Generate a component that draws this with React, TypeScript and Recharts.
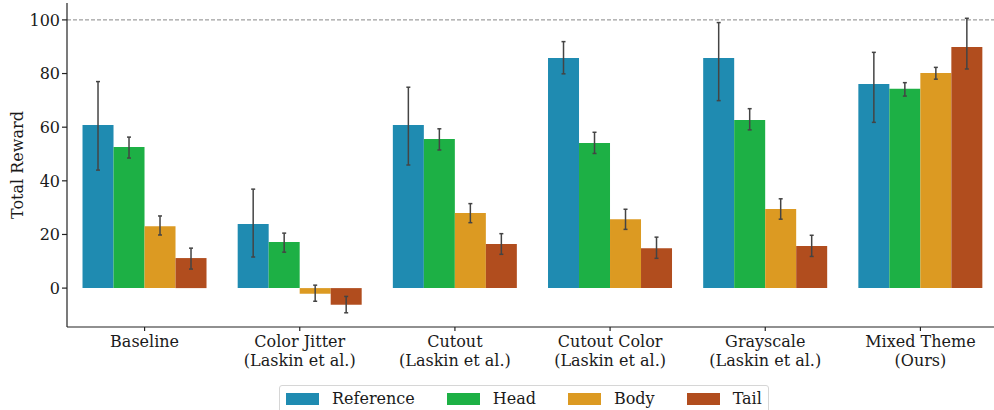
import React from 'react';
import { BarChart, Bar, XAxis, YAxis, ErrorBar, ReferenceLine, Legend } from 'recharts';

// values
const categories = [
    'Baseline',
    'Color Jitter\n(Laskin et al.)',
    'Cutout\n(Laskin et al.)',
    'Cutout Color\n(Laskin et al.)',
    'Grayscale\n(Laskin et al.)',
    'Mixed Theme\n(Ours)',
];

const reference = [60.8, 23.9, 60.8, 85.8, 85.8, 76.1];
const referenceCI = [[44, 77], [11.6, 36.9], [45.9, 74.9], [79.9, 91.9], [69.9, 99.0], [61.8, 87.9]];
const head = [52.6, 17.2, 55.6, 54.1, 62.7, 74.3];
const headCI = [[48.5, 56.3], [13.4, 20.5], [51.5, 59.4], [50.2, 58.1], [59.0, 66.9], [71.6, 76.6]];
const body = [23.1, -2.1, 28.0, 25.7, 29.5, 80.2];
const bodyCI = [[19.8, 26.9], [-4.9, 1.1], [24.4, 31.5], [21.9, 29.4], [25.7, 33.3], [77.9, 82.3]];
const tail = [11.2, -6.2, 16.4, 14.9, 15.7, 89.9];
const tailCI = [[7.1, 14.9], [-9.2, -3.1], [12.6, 20.3], [11.1, 19.0], [11.8, 19.7], [81.7, 100.6]];

const yTicks = [0, 20, 40, 60, 80, 100];

const series = [
    { key: 'reference', name: 'Reference', color: '#1F8BB1', values: reference, ci: referenceCI },
    { key: 'head', name: 'Head', color: '#1DB045', values: head, ci: headCI },
    { key: 'body', name: 'Body', color: '#DC9A22', values: body, ci: bodyCI },
    { key: 'tail', name: 'Tail', color: '#B14D1E', values: tail, ci: tailCI },
];

const FONT = '"DejaVu Serif", serif';

const chartData = categories.map((name, i) => {
    const row: any = { name };
    series.forEach((s) => {
        const v = s.values[i];
        row[s.key] = v;
        row[s.key + 'Err'] = [v - s.ci[i][0], s.ci[i][1] - v];
    });
    return row;
});

const CategoryTick = ({ x, y, payload }: any) => {
    const lines = String(payload.value).split('\n');
    return (
        <text x={x} y={y} textAnchor="middle" fontSize={16} fontFamily={FONT} fill="#1a1a1a">
            {lines.map((line, i) => (
                <tspan key={i} x={x} dy={i === 0 ? 14 : 18.5}>{line}</tspan>
            ))}
        </text>
    );
};

const LegendBox = () => (
    <div
        style={{
            display: 'flex',
            alignItems: 'center',
            border: '1px solid #d6d6d6',
            borderRadius: 3,
            padding: '3px 6px 8px 6px',
            background: '#fff',
            fontFamily: FONT,
            fontSize: 16,
            color: '#1a1a1a',
        }}
    >
        {series.map((s, i) => (
            <div key={s.key} style={{ display: 'flex', alignItems: 'center', marginLeft: i === 0 ? 0 : 32 }}>
                <span style={{ width: 33, height: 12, background: s.color, display: 'inline-block' }} />
                <span style={{ marginLeft: 13 }}>{s.name}</span>
            </div>
        ))}
    </div>
);

export default function App() {
    return (
        <div style={{ position: 'absolute', left: 0, top: 0, width: 994, height: 410, overflow: 'hidden', background: '#fff' }}>
            <BarChart
                width={1004}
                height={410}
                data={chartData}
                margin={{ top: 3, right: 6, left: 0, bottom: 43 }}
                barCategoryGap="10%"
                barGap={0}
            >
                <XAxis
                    dataKey="name"
                    height={40}
                    interval={0}
                    tick={<CategoryTick />}
                    tickSize={4}
                    stroke="#222"
                    strokeWidth={1.2}
                />
                <YAxis
                    width={67}
                    domain={[-14.5, 106.3]}
                    ticks={yTicks}
                    allowDataOverflow
                    tickSize={5}
                    stroke="#222"
                    strokeWidth={1.2}
                    tick={{ fontSize: 16, fontFamily: FONT, fill: '#1a1a1a' }}
                    label={{
                        content: ({ viewBox }: any) => (
                            <text
                                transform={`translate(${viewBox.x + 17},${viewBox.y + viewBox.height / 2}) rotate(-90)`}
                                textAnchor="middle"
                                dominantBaseline="central"
                                fontSize={16}
                                fontFamily={FONT}
                                fill="#1a1a1a"
                            >
                                Total Reward
                            </text>
                        ),
                    }}
                />
                <ReferenceLine y={100} stroke="#888" strokeDasharray="4 2" strokeWidth={1} />
                {series.map((s) => (
                    <Bar key={s.key} dataKey={s.key} name={s.name} fill={s.color} isAnimationActive={false}>
                        <ErrorBar
                            dataKey={s.key + 'Err'}
                            direction="y"
                            width={2}
                            stroke="#444"
                            strokeWidth={1.5}
                            isAnimationActive={false}
                        />
                    </Bar>
                ))}
                <Legend
                    layout="horizontal"
                    verticalAlign="middle"
                    align="center"
                    content={<LegendBox />}
                    wrapperStyle={{ position: 'absolute', left: 279, top: 385, width: 'auto', height: 'auto' }}
                />
            </BarChart>
        </div>
    );
}
